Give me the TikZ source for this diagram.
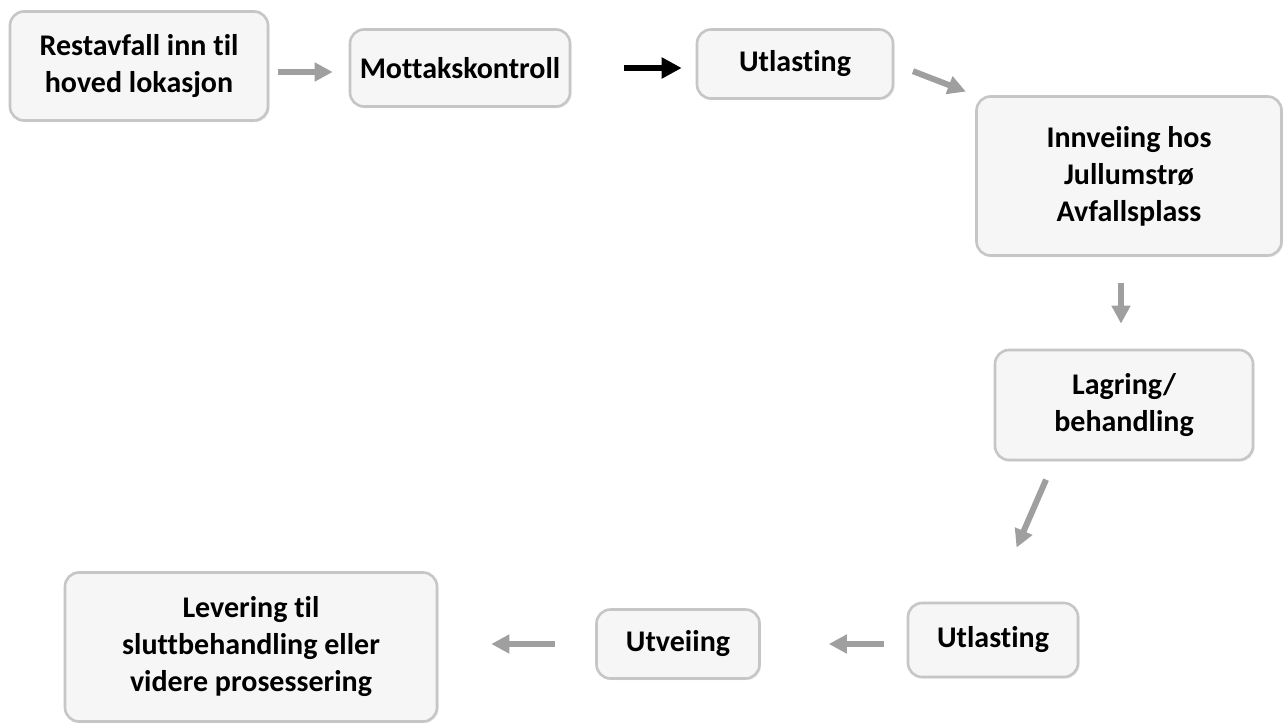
\documentclass[tikz,border=0pt]{standalone}
\usepackage{fontspec}
\setmainfont{Carlito}[Ligatures=NoCommon]
\usetikzlibrary{arrows.meta,shadows}
\tikzset{
  boks/.style={rounded corners=7pt, draw=gray!45, line width=1.3pt, fill=gray!7,
    align=center, font=\bfseries\fontsize{15}{18.5}\selectfont, inner sep=2pt,
    drop shadow={opacity=0.12, shadow xshift=0.8pt, shadow yshift=-0.8pt}},
  pil/.style={-{Triangle[length=9pt,width=9pt]}, line width=3pt, draw=gray!75},
  svartpil/.style={-{Triangle[length=10pt,width=10pt]}, line width=3pt, draw=black}
}
\begin{document}
\begin{tikzpicture}[x=0.5pt,y=-0.5pt]
        \useasboundingbox[fill=white] (0,0) rectangle (1288,727);
        % Boksene i flyten
        \node[boks, minimum width=129pt, minimum height=54.5pt] (rest) at (139,66) {Restavfall inn til\\hoved lokasjon};
        \node[boks, minimum width=110pt, minimum height=38.5pt] (mott) at (460,68) {Mottakskontroll};
        \node[boks, minimum width=98pt, minimum height=34.5pt] (utl1) at (795,64) {Utlasting};
        \node[boks, minimum width=152.5pt, minimum height=79.5pt] (innv) at (1129,176) {Innveiing hos\\Jullumstrø\\Avfallsplass};
        \node[boks, minimum width=129pt, minimum height=55pt] (lagr) at (1124,405) {Lagring/\\behandling};
        \node[boks, minimum width=85pt, minimum height=37pt] (utl2) at (993,640) {Utlasting};
        \node[boks, minimum width=81.5pt, minimum height=34.5pt] (utve) at (678,644) {Utveiing};
        \node[boks, minimum width=186pt, minimum height=74.5pt] (leve) at (251,647) {Levering til\\sluttbehandling eller\\videre prosessering};
        % Pilene
        \draw[pil, shorten <=4.5pt, shorten >=8pt] ([yshift=-2pt]rest.east |- mott.west) -- ([yshift=-2pt]mott.west);
        \draw[svartpil, shorten <=26.5pt, shorten >=7pt] (mott.east) -- (mott.east -| utl1.west);
        \draw[pil, shorten <=10pt, shorten >=5pt] (utl1.east) -- (innv.north west);
        \draw[pil, shorten <=13pt, shorten >=12.5pt] ([xshift=-1.5pt]innv.south -| lagr.north) -- ([xshift=-1.5pt]lagr.north);
        \draw[pil, shorten <=10pt, shorten >=29.5pt] ([xshift=-35pt]lagr.south) -- (utl2.north);
        \draw[pil, shorten <=11.5pt, shorten >=34pt] (utl2.west |- utve.east) -- (utve.east);
        \draw[pil, shorten <=20pt, shorten >=26.5pt] (utve.west) -- (utve.west -| leve.east);
\end{tikzpicture}
\end{document}
